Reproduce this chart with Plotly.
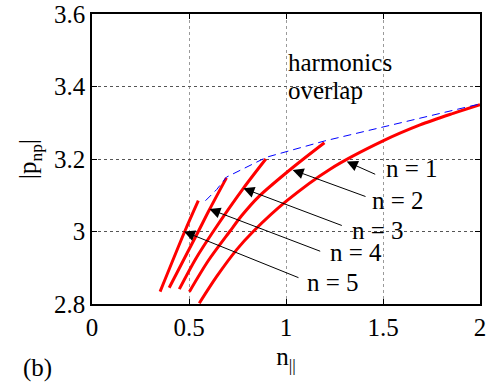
import plotly.graph_objects as go

# ---- data ----
n_par_1 = [0.553, 0.643, 0.746, 0.831, 1.0, 1.227, 1.5, 1.691, 1.862, 2.0]
p_1 = [2.802, 2.876, 2.950, 3.0, 3.083, 3.172, 3.250, 3.294, 3.326, 3.350]

n_par_2 = [0.502, 0.60, 0.71, 0.772, 0.857, 1.038, 1.198]
p_2 = [2.834, 2.920, 3.0, 3.044, 3.095, 3.178, 3.245]

n_par_3 = [0.45, 0.535, 0.625, 0.78, 0.896]
p_3 = [2.841, 2.925, 3.0, 3.119, 3.2]

n_par_4 = [0.398, 0.548, 0.605, 0.693]
p_4 = [2.845, 3.0, 3.06, 3.148]

n_par_5 = [0.351, 0.478, 0.548]
p_5 = [2.834, 3.0, 3.085]

overlap_n = [0.585, 0.643, 0.693, 0.90, 1.20, 2.0]
overlap_p = [3.085, 3.116, 3.150, 3.205, 3.250, 3.352]

x_tickvals = [0, 0.5, 1, 1.5, 2]
x_ticktext = ["0", "0.5", "1", "1.5", "2"]
y_tickvals = [2.8, 3.0, 3.2, 3.4, 3.6]
y_ticktext = ["2.8", "3", "3.2", "3.4", "3.6"]

harmonic_labels = ["n = 1", "n = 2", "n = 3", "n = 4", "n = 5"]
# label centre, arrow tail, arrow tip (data coords)
label_pos = [(1.652, 3.173), (1.576, 3.0855), (1.476, 3.004), (1.360, 2.9415), (1.241, 2.8607)]
arrow_tail = [(1.4675, 3.156), (1.4175, 3.095), (1.2954, 3.015), (1.184, 2.944), (1.072, 2.871)]
arrow_tip = [(1.313, 3.193), (1.034, 3.170), (0.780, 3.119), (0.605, 3.062), (0.474, 3.0)]

FONT = "Liberation Serif"
TXT = dict(family=FONT, size=25, color="black")

fig = go.Figure()
for xs, ys in [(n_par_1, p_1), (n_par_2, p_2), (n_par_3, p_3), (n_par_4, p_4), (n_par_5, p_5)]:
    fig.add_trace(go.Scatter(x=xs, y=ys, mode="lines",
                             line=dict(color="#ff0000", width=3, shape="spline", smoothing=0.8),
                             showlegend=False, hoverinfo="skip"))
fig.add_trace(go.Scatter(x=overlap_n, y=overlap_p, mode="lines",
                         line=dict(color="#0000ff", width=1, dash="8px,5px"),
                         showlegend=False, hoverinfo="skip"))

annotations = []
for lab, (tx, ty), (ax_, ay_), (px, py) in zip(harmonic_labels, label_pos, arrow_tail, arrow_tip):
    annotations.append(dict(x=px, y=py, xref="x", yref="y", ax=ax_, ay=ay_, axref="x", ayref="y",
                            text="", showarrow=True, arrowhead=2, arrowsize=2.2, arrowwidth=1,
                            arrowcolor="black", standoff=0))
    annotations.append(dict(x=tx, y=ty, xref="x", yref="y", text=lab, showarrow=False,
                            xanchor="center", yanchor="middle", font=TXT))

annotations.append(dict(x=1.0, y=3.466, xref="x", yref="y", text="harmonics", showarrow=False,
                        xanchor="left", yanchor="middle", font=TXT))
annotations.append(dict(x=1.0, y=3.390, xref="x", yref="y", text="overlap", showarrow=False,
                        xanchor="left", yanchor="middle", font=TXT))
annotations.append(dict(x=-0.14, y=-0.221, xref="paper", yref="paper", text="(b)", showarrow=False,
                        xanchor="center", yanchor="middle", font=TXT))

fig.update_layout(
    width=491, height=392,
    margin=dict(l=92, r=11, t=14, b=88, autoexpand=False),
    paper_bgcolor="white", plot_bgcolor="white",
    font=TXT,
    annotations=annotations,
)
fig.update_xaxes(range=[0, 2], tickvals=x_tickvals, ticktext=x_ticktext, automargin=False,
                 showline=True, linecolor="black", linewidth=1.5, mirror="ticks",
                 ticks="inside", ticklen=5, tickcolor="black",
                 tickfont=TXT,
                 showgrid=True, gridcolor="#9a9a9a", griddash="dot", gridwidth=1,
                 zeroline=False,
                 title=dict(text="n<sub>||</sub>", font=TXT, standoff=8))
fig.update_yaxes(range=[2.8, 3.6], tickvals=y_tickvals, ticktext=y_ticktext, automargin=False,
                 showline=True, linecolor="black", linewidth=1.5, mirror="ticks",
                 ticks="inside", ticklen=5, tickcolor="black",
                 tickfont=TXT,
                 showgrid=True, gridcolor="#555555", griddash="dot", gridwidth=1,
                 zeroline=False,
                 title=dict(text="|p<sub>np</sub>|", font=TXT, standoff=10))

fig.write_html("out.html", config={"displayModeBar": False},
               post_script="document.body.style.margin='0';")
